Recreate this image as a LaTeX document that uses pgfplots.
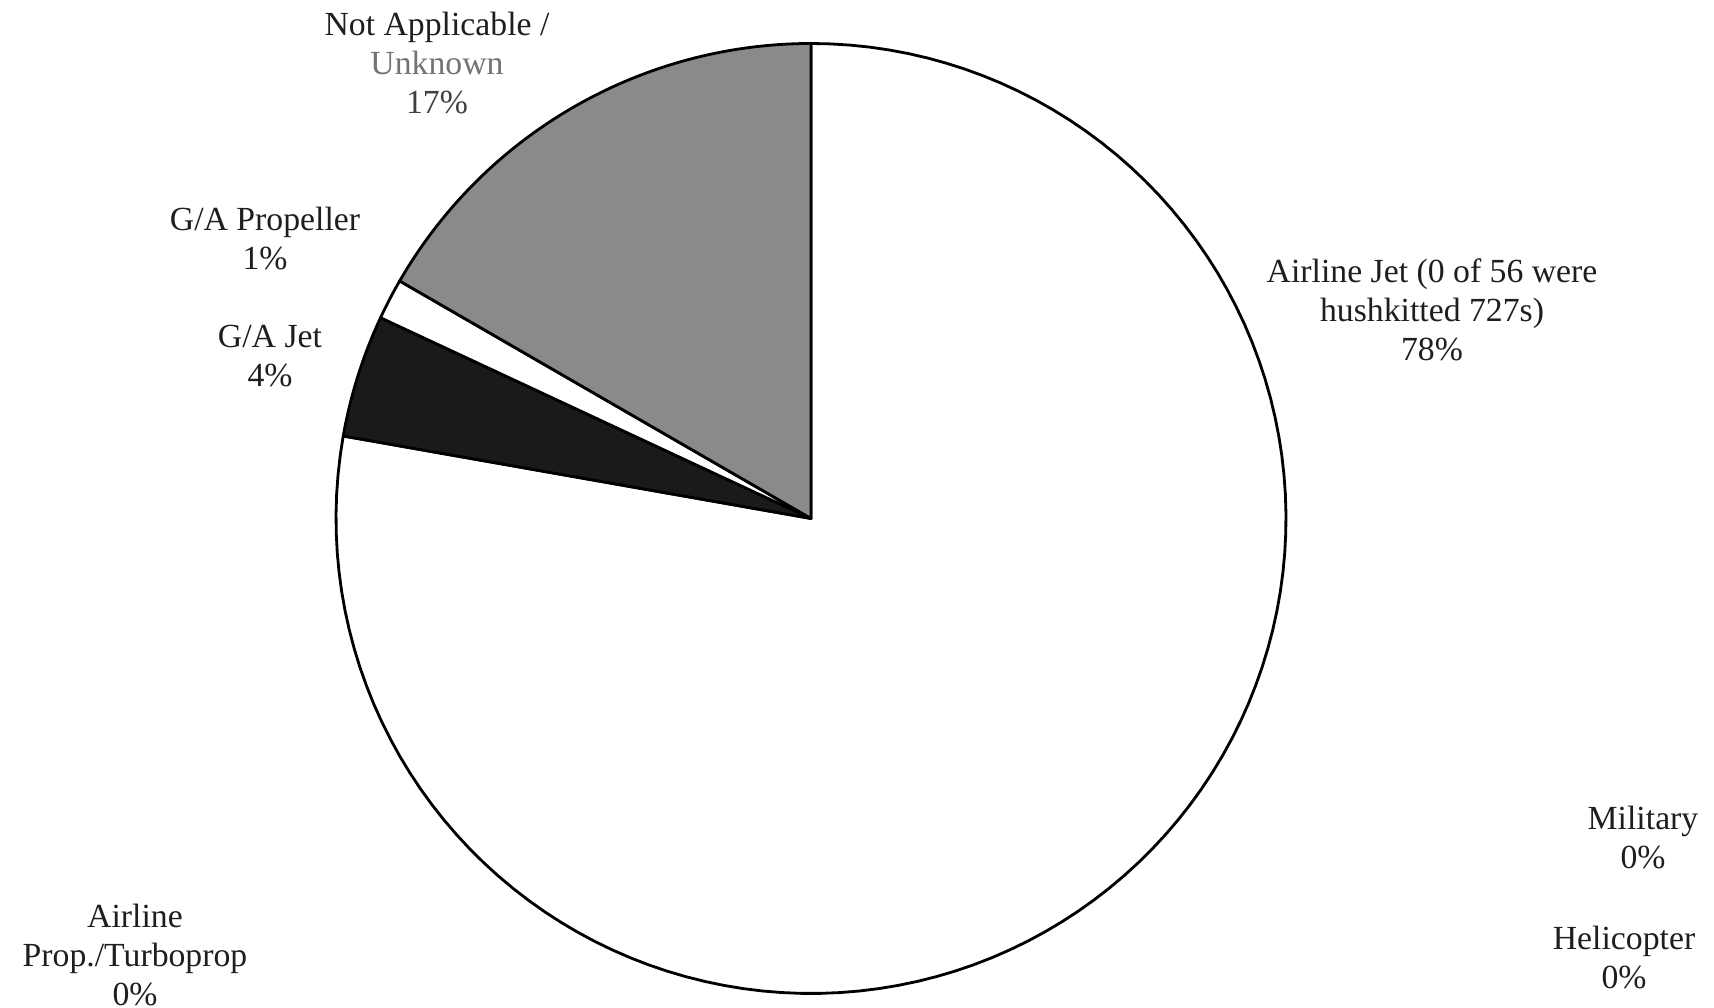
\documentclass[border=0pt]{standalone}
\usepackage{pgfplots}
\pgfplotsset{compat=1.18}
\usepackage{fontspec}
\setmainfont{Liberation Serif}

\definecolor{sliceGray}{RGB}{138,138,138}
\definecolor{sliceDark}{RGB}{26,26,26}
\definecolor{labelInk}{RGB}{30,30,30}

\tikzset{lab/.style={font=\fontsize{9.6pt}{11.1pt}\selectfont, text=labelInk,
  align=center, inner sep=0pt}}

% aircraft counts behind the pie (72 events in total)
\def\total{72}
\def\pieR{475}

% \slice{counts before this slice}{count}{fill colour}
% slices run clockwise from twelve o'clock
\newcommand{\slice}[3]{%
  \pgfmathsetmacro{\angA}{90-#1*(360/\total)}%
  \pgfmathsetmacro{\angB}{90-(#1+#2)*(360/\total)}%
  \edef\doslice{\noexpand\addplot[draw=black, line width=0.8pt, line join=round,
           fill=#3, data cs=polar, domain=\angB:\angA, samples=120]}%
  \doslice {\pieR} -- (axis cs:0,0) -- cycle;%
}

\begin{document}
\begin{tikzpicture}
\useasboundingbox (0,0) rectangle (17.14cm,10.08cm);
\begin{axis}[
  at={(0,0)}, anchor=south west,
  scale only axis, width=17.14cm, height=10.08cm,
  xmin=-811, xmax=903, ymin=-489.5, ymax=518.5,
  hide axis, clip=false,
]
% Airline Jet 56, Airline Prop./Turboprop 0, Helicopter 0, Military 0,
% G/A Jet 3, G/A Propeller 1, Not Applicable / Unknown 12
\slice{0}{56}{white}
\slice{56}{3}{sliceDark}
\slice{59}{1}{white}
\slice{60}{12}{sliceGray}

\node[lab] at (axis cs:-374,455) {Not Applicable /\\{\color{black!55}Unknown}\\{\color{black!75}17\%}};
\node[lab] at (axis cs:-546,280) {G/A Propeller\\1\%};
\node[lab] at (axis cs:-541,162) {G/A Jet\\4\%};
\node[lab] at (axis cs:621,209) {Airline Jet (0 of 56 were\\hushkitted 727s)\\78\%};
\node[lab] at (axis cs:832,-319) {Military\\0\%};
\node[lab] at (axis cs:813,-439) {Helicopter\\0\%};
\node[lab] at (axis cs:-676,-437) {Airline\\Prop./Turboprop\\0\%};
\end{axis}
\end{tikzpicture}
\end{document}
